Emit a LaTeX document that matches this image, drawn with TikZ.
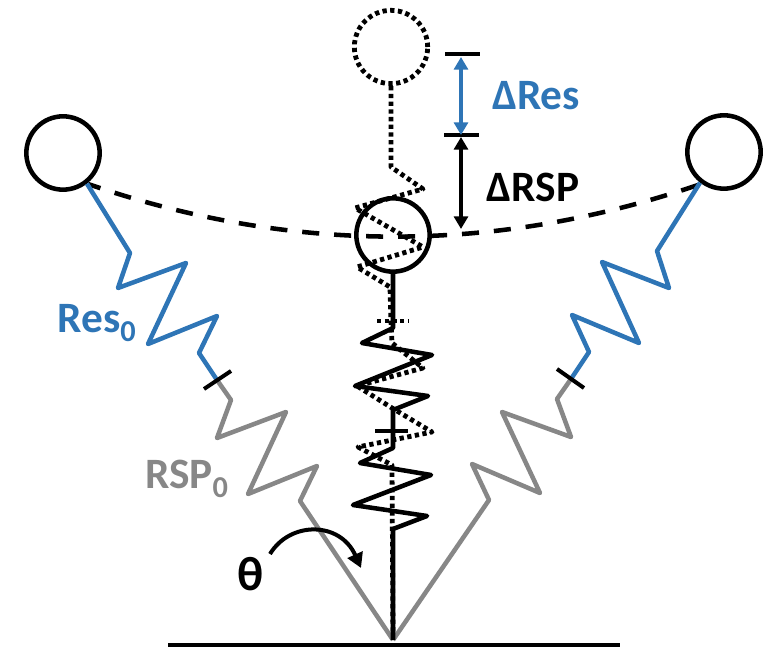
\documentclass[tikz,border=0pt]{standalone}
\usepackage{fontspec}
\setmainfont{Carlito}
\usetikzlibrary{arrows.meta}

\definecolor{resblue}{RGB}{46,117,182}
\definecolor{rspgray}{RGB}{135,135,135}

\begin{document}
\begin{tikzpicture}[%
        x = 0.75pt,
        y = -0.75pt,
        line width = 3.4pt,
        line join = round,
        > = {Triangle[length = 9.5pt, width = 10.5pt]},
        ball/.style = {circle, draw, inner sep = 0pt, minimum size = 55pt},
        dotline/.style = {line width = 3.6pt, dash pattern = on 3.2pt off 2.6pt},
        tick/.style = {line width = 3pt},
        bar/.style = {line width = 2.3pt},
        label/.style = {font = \bfseries\fontsize{32.5}{36}\selectfont, inner sep = 0pt}
    ]

        \useasboundingbox (0, 0) rectangle (765, 648);

        % Named points shared by the springs.
        \coordinate (pivot) at (393, 640);
        \coordinate (jointLeft) at (217, 380);
        \coordinate (jointRight) at (571, 379);
        \coordinate (top) at (461, 54);
        \coordinate (mid) at (461, 135);
        \coordinate (low) at (461, 229);

        % Ground line.
        \draw (168, 645) to (620, 645);

        % Stretched position, dotted.
        \node[ball, dotline] (ballUp) at (391, 47) {};
        \draw[dotline] (ballUp.south) to (391, 167) to (423, 189) to (355, 208)
            to (423, 247) to (357, 267) to (390, 287) to (391, 321)
            to (392, 343) to (423, 368) to (357, 386) to (392, 408)
            to (432, 432) to (358, 447) to (392, 465) to (pivot);
        \draw[dotline] (377, 321) to (409, 321);

        % Swing path of the mass.
        \draw[dash pattern = on 12.8pt off 11.2pt, dash phase = 3pt]
            (88, 184) .. controls (291, 254) and (495, 254) .. (698, 185);

        % Three masses.
        \node[ball] (ballLeft) at (63, 153) {};
        \node[ball] (ballMid) at (393, 235) {};
        \node[ball] (ballRight) at (724, 152) {};

        % Left spring.
        \draw[resblue] (ballLeft.-52) to (130, 253) to (118, 288) to (186, 263)
            to (148, 344) to (217, 316) to (199, 353) to (jointLeft);
        \draw[rspgray] (jointLeft) to (231, 400) to (217, 438) to (286, 412)
            to (248, 494) to (317, 466) to (300, 501) to (pivot);
        \draw[tick] (204, 389) to (231, 371);

        % Right spring.
        \draw[resblue] (ballRight.-128) to (657, 251) to (669, 288) to (602, 262)
            to (639, 343) to (572, 315) to (589, 352) to (jointRight);
        \draw[rspgray] (jointRight) to (557, 399) to (571, 437) to (502, 412)
            to (540, 493) to (472, 464) to (489, 500) to (pivot);
        \draw[tick] (557, 369) to (584, 388);

        % Middle spring, compressed.
        \draw (ballMid.south) to (393, 328) to (362, 343) to (432, 355) to (355, 386)
            to (428, 396) to (393, 410) to (393, 448) to (360, 463) to (431, 475)
            to (353, 505) to (427, 516) to (393, 529) to (pivot);
        \draw[tick] (375, 431) to (408, 431);

        % Bars and arrows for the two lengths.
        \draw[bar] (445, 54) to (480, 54);
        \draw[bar] (444, 135) to (479, 135);
        \draw[<->, resblue] (top) ++(0, 3) to (mid);
        \draw[<->, line width = 2.8pt] (mid) ++(0, 2) to (low);

        % Angle arrow.
        \draw[->, line width = 3pt, > = {Triangle[length = 11pt, width = 12pt]}]
            (270, 554) .. controls (290, 521) and (340, 521) .. (361, 568);

        % Labels.
        \node[label, text = resblue] (labelDeltaRes) at (536, 96) {ΔRes};
        \node[label] (labelDeltaRsp) at (533, 187) {ΔRSP};
        \node[label, text = resblue] (labelRes) at (97, 323) {Res\textsubscript{0}};
        \node[label, text = rspgray] (labelRsp) at (187, 479) {RSP\textsubscript{0}};
        \node[label, font = \bfseries\fontsize{36}{40}\selectfont] (labelTheta) at (251, 574) {θ};
    \end{tikzpicture}
\end{document}
